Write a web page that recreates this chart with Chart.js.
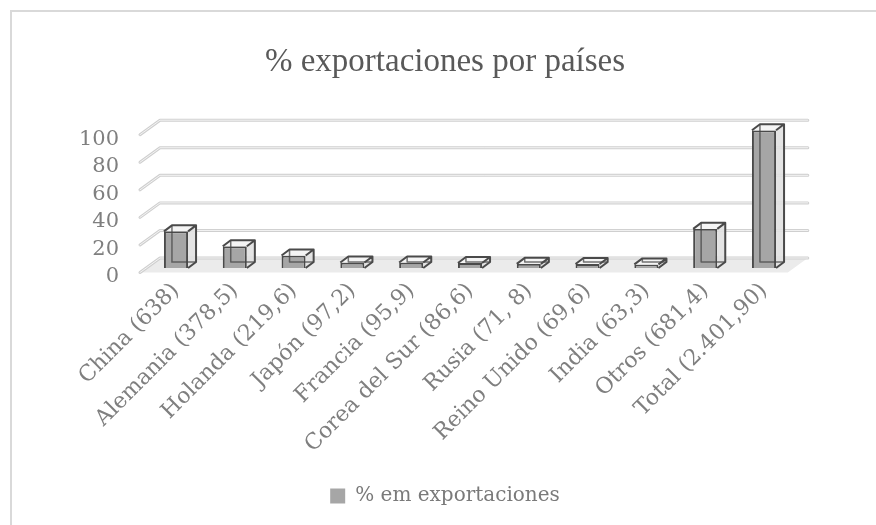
<!DOCTYPE html>
<html><head><meta charset="utf-8">
<script src="https://cdn.jsdelivr.net/npm/chart.js@4"></script>
<style>html,body{margin:0;padding:0;background:#fff}</style>
</head><body>
<canvas id="c" width="876" height="525"></canvas>
<script>
const categories = ["China (638)", "Alemania (378,5)", "Holanda (219,6)", "Japón (97,2)", "Francia (95,9)", "Corea del Sur (86,6)", "Rusia (71, 8)", "Reino Unido (69,6)", "India (63,3)", "Otros (681,4)", "Total (2.401,90)"];
const seriesName = "% em exportaciones";
const seriesValues = [26.6, 15.8, 9.1, 4.0, 4.0, 3.6, 3.0, 2.9, 2.6, 28.4, 100];
const yTickValues = [0, 20, 40, 60, 80, 100];
const titleText = "% exportaciones por países";

const BAR_DX = 8, BAR_DY = -6;
const WALL_DX = 13.4, WALL_DY = -10;
const FRONT_DX = -6.6, FRONT_DY = 4.5;

const framePlugin = {
  id: 'frame',
  beforeDraw(chart) {
    const ctx = chart.ctx;
    ctx.save();
    ctx.strokeStyle = '#d9d9d9';
    ctx.lineWidth = 2;
    ctx.strokeRect(11, 11, 920, 620);
    ctx.restore();
  }
};

const wallPlugin = {
  id: 'wall',
  beforeDatasetsDraw(chart) {
    const ctx = chart.ctx;
    const ys = chart.scales.y;
    const L = chart.chartArea.left, R = chart.chartArea.right;
    const y0 = ys.getPixelForValue(0);
    ctx.save();
    ctx.fillStyle = '#ebebeb';
    ctx.beginPath();
    ctx.moveTo(L + WALL_DX, y0 + WALL_DY);
    ctx.lineTo(R + WALL_DX + 1, y0 + WALL_DY);
    ctx.lineTo(R + FRONT_DX + 1, y0 + FRONT_DY);
    ctx.lineTo(L + FRONT_DX, y0 + FRONT_DY);
    ctx.closePath();
    ctx.fill();
    ys.ticks.forEach(t => {
      const yf = ys.getPixelForValue(t.value);
      const pts = [[L + FRONT_DX, yf + FRONT_DY], [L + WALL_DX, yf + WALL_DY], [R + WALL_DX + 1, yf + WALL_DY]];
      [[3, '#cfcfcf'], [1, '#f4f4f4']].forEach(([w, c]) => {
        ctx.lineWidth = w; ctx.strokeStyle = c; ctx.lineCap = 'round'; ctx.lineJoin = 'round';
        ctx.beginPath();
        ctx.moveTo(pts[0][0], pts[0][1]);
        ctx.lineTo(pts[1][0], pts[1][1]);
        ctx.lineTo(pts[2][0], pts[2][1]);
        ctx.stroke();
      });
    });
    ctx.restore();
  },
  afterDatasetsDraw(chart) {
    const ctx = chart.ctx;
    const meta = chart.getDatasetMeta(0);
    ctx.save();
    meta.data.forEach(bar => {
      const p = bar.getProps(['x', 'y', 'base', 'width'], true);
      const l = p.x - p.width / 2, r = p.x + p.width / 2, top = p.y, b = p.base;
      ctx.fillStyle = 'rgba(225,225,225,0.9)';
      ctx.beginPath();
      ctx.moveTo(r, top); ctx.lineTo(r + BAR_DX, top + BAR_DY); ctx.lineTo(r + BAR_DX, b + BAR_DY); ctx.lineTo(r, b); ctx.closePath();
      ctx.fill();
      ctx.fillStyle = '#f4f4f4';
      ctx.beginPath();
      ctx.moveTo(l, top); ctx.lineTo(l + BAR_DX, top + BAR_DY); ctx.lineTo(r + BAR_DX, top + BAR_DY); ctx.lineTo(r, top); ctx.closePath();
      ctx.fill();
      ctx.strokeStyle = 'rgba(70,70,70,0.75)';
      ctx.lineWidth = 1.5;
      ctx.beginPath();
      ctx.moveTo(l + BAR_DX, top + BAR_DY); ctx.lineTo(l + BAR_DX, b + BAR_DY); ctx.lineTo(r + BAR_DX, b + BAR_DY);
      ctx.stroke();
      ctx.strokeStyle = '#4a4a4a';
      ctx.lineWidth = 2;
      ctx.lineJoin = 'round';
      ctx.beginPath();
      ctx.moveTo(l, top); ctx.lineTo(l + BAR_DX, top + BAR_DY); ctx.lineTo(r + BAR_DX, top + BAR_DY); ctx.lineTo(r, top);
      ctx.moveTo(r + BAR_DX, top + BAR_DY); ctx.lineTo(r + BAR_DX, b + BAR_DY); ctx.lineTo(r, b);
      ctx.stroke();
    });
    ctx.restore();
  }
};

new Chart(document.getElementById('c'), {
  type: 'bar',
  data: {
    labels: categories,
    datasets: [{
      label: seriesName,
      data: seriesValues,
      backgroundColor: '#a6a6a6',
      borderColor: '#4a4a4a',
      borderWidth: 2,
      categoryPercentage: 1,
      barPercentage: 0.41
    }]
  },
  options: {
    responsive: false,
    animation: false,
    layout: { padding: { top: 0, left: 14, right: 0, bottom: 9 } },
    plugins: {
      title: {
        display: true,
        text: titleText,
        color: '#595959',
        font: { family: 'Liberation Serif', size: 33, weight: 'normal' },
        padding: { top: 43, bottom: 47.6 }
      },
      legend: {
        position: 'bottom',
        labels: {
          color: '#7a7a7a',
          font: { family: 'DejaVu Serif', size: 20 },
          boxWidth: 15, boxHeight: 15,
          padding: 10,
          generateLabels(chart) {
            const items = Chart.defaults.plugins.legend.labels.generateLabels(chart);
            items.forEach(i => { i.lineWidth = 0; i.strokeStyle = 'rgba(0,0,0,0)'; i.fillStyle = '#a6a6a6'; });
            return items;
          }
        }
      },
      tooltip: { enabled: false }
    },
    scales: {
      x: {
        grid: { display: false, drawTicks: false },
        border: { display: false },
        ticks: {
          autoSkip: false, maxRotation: 45, minRotation: 45,
          color: '#7f7f7f',
          font: { family: 'DejaVu Serif', size: 22 },
          padding: 10
        },
        afterFit(axis) { axis.height = 208; }
      },
      y: {
        min: 0, max: 100,
        grid: { display: false, drawTicks: false },
        border: { display: false },
        afterBuildTicks(axis) { axis.ticks = yTickValues.map(v => ({ value: v })); },
        ticks: {
          autoSkip: false,
          color: '#7f7f7f',
          font: { family: 'DejaVu Serif', size: 21 },
          padding: 27.6,
          labelOffset: 9
        },
        afterFit(axis) { axis.width = 132.6; }
      },
      yRight: {
        position: 'right',
        display: true,
        grid: { display: false, drawTicks: false },
        border: { display: false },
        ticks: { display: false },
        afterFit(axis) { axis.width = 82.6; }
      }
    }
  },
  plugins: [framePlugin, wallPlugin]
});
</script>
</body></html>
